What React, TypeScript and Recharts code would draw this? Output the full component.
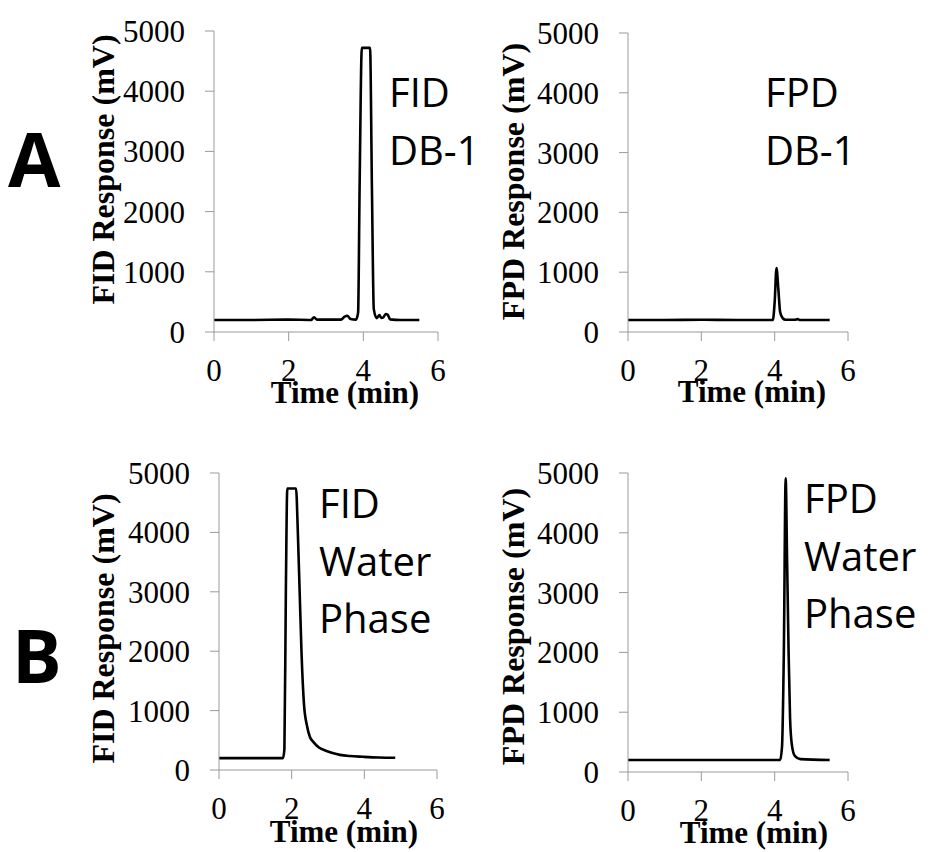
import React from "react";
import { LineChart, Line, XAxis, YAxis } from "recharts";

// time (min) / response (mV)
const fidDb1Time = [0, 1, 2, 2.6, 2.68, 2.76, 3.4, 3.5, 3.57, 3.66, 3.8, 3.86, 3.9, 3.96, 4.18, 4.23, 4.28, 4.36, 4.43, 4.48, 4.53, 4.6, 4.65, 4.72, 5, 5.5];
const fidDb1Resp = [200, 200, 205, 200, 245, 205, 205, 255, 270, 215, 205, 320, 2400, 4720, 4720, 2400, 380, 230, 280, 235, 240, 300, 290, 210, 200, 200];

const fpdDb1Time = [0, 1, 2, 3, 3.95, 4.0, 4.05, 4.1, 4.15, 4.22, 4.3, 4.55, 4.62, 4.7, 5.5];
const fpdDb1Resp = [200, 200, 205, 200, 200, 500, 1070, 720, 330, 230, 205, 205, 215, 200, 200];

const fidWaterTime = [0, 1, 1.76, 1.8, 1.84, 1.88, 2.12, 2.17, 2.22, 2.27, 2.34, 2.42, 2.5, 2.6, 2.75, 2.96, 3.15, 3.33, 3.6, 3.97, 4.4, 4.85];
const fidWaterResp = [200, 200, 200, 350, 3000, 4740, 4740, 4000, 3000, 2000, 1100, 750, 560, 470, 380, 320, 280, 255, 235, 222, 210, 205];

const fpdWaterTime = [0, 1, 2, 3, 4.15, 4.2, 4.25, 4.3, 4.34, 4.38, 4.42, 4.47, 4.55, 4.7, 5.5];
const fpdWaterResp = [200, 200, 200, 200, 200, 420, 2000, 4910, 3500, 2000, 900, 450, 270, 215, 200];

const xTicks = [0, 2, 4, 6];
const yTicks = [0, 1000, 2000, 3000, 4000, 5000];

const toRows = (t: number[], v: number[]) => t.map((time, i) => ({ time, resp: v[i] }));

const axisGrey = "#9a9a9a";
const serif = "'Liberation Serif', 'Times New Roman', serif";
const sans = "'Open Sans', 'Noto Sans', sans-serif";

interface PanelProps {
  data: Array<{ time: number; resp: number }>;
  yLabel: string;
  left: number;
  top: number;
  width: number;
  height: number;
  yAxisWidth: number;
  margin: { top: number; right: number; bottom: number; left: number };
  yLabelX: number;
  yLabelDy: number;
  xLabelDx: number;
  xLabelOffset: number;
}

const Panel = ({
  data,
  yLabel,
  left,
  top,
  width,
  height,
  yAxisWidth,
  margin,
  yLabelX,
  yLabelDy,
  xLabelDx,
  xLabelOffset,
}: PanelProps) => (
  <div style={{ position: "absolute", left, top }}>
    <LineChart width={width} height={height} data={data} margin={margin}>
      <XAxis
        dataKey="time"
        type="number"
        domain={[0, 6]}
        ticks={xTicks}
        height={80}
        stroke={axisGrey}
        tickSize={9}
        tickMargin={18}
        tick={{ fill: "#000", fontSize: 31, fontFamily: serif }}
        label={{
          value: "Time (min)",
          position: "insideBottom",
          offset: xLabelOffset,
          dx: xLabelDx,
          style: { fill: "#000", fontSize: 31, fontWeight: 700, fontFamily: serif },
        }}
      />
      <YAxis
        dataKey="resp"
        type="number"
        domain={[0, 5000]}
        ticks={yTicks}
        width={yAxisWidth}
        stroke={axisGrey}
        tickSize={9}
        tickMargin={20}
        tick={{ fill: "#000", fontSize: 31, fontFamily: serif }}
        label={{
          value: yLabel,
          angle: -90,
          position: "insideLeft",
          offset: yLabelX,
          dy: yLabelDy,
          style: {
            textAnchor: "middle",
            fill: "#000",
            fontSize: 32,
            fontWeight: 700,
            fontFamily: serif,
          },
        }}
      />
      <Line
        type="monotone"
        dataKey="resp"
        stroke="#000"
        strokeWidth={2.6}
        dot={false}
        isAnimationActive={false}
      />
    </LineChart>
  </div>
);

const annotations = [
  { x: 389, y: 107, text: "FID" },
  { x: 389, y: 165, text: "DB-1" },
  { x: 765, y: 107, text: "FPD" },
  { x: 765, y: 165, text: "DB-1" },
  { x: 319, y: 518, text: "FID" },
  { x: 319, y: 576, text: "Water" },
  { x: 319, y: 633, text: "Phase" },
  { x: 804, y: 513, text: "FPD" },
  { x: 804, y: 571, text: "Water" },
  { x: 804, y: 628, text: "Phase" },
];

export default function App() {
  return (
    <div
      style={{
        position: "absolute",
        left: 0,
        top: 0,
        width: 930,
        height: 852,
        background: "#fff",
        overflow: "hidden",
      }}
    >
      <Panel
        data={toRows(fidDb1Time, fidDb1Resp)}
        yLabel="FID Response (mV)"
        left={0}
        top={0}
        width={470}
        height={420}
        yAxisWidth={214}
        margin={{ top: 31, right: 32, bottom: 8, left: 0 }}
        yLabelX={103}
        yLabelDy={-12}
        xLabelDx={19}
        xLabelOffset={9}
      />
      <Panel
        data={toRows(fpdDb1Time, fpdDb1Resp)}
        yLabel="FPD Response (mV)"
        left={465}
        top={0}
        width={465}
        height={420}
        yAxisWidth={163}
        margin={{ top: 33, right: 82, bottom: 8, left: 0 }}
        yLabelX={48}
        yLabelDy={-1}
        xLabelDx={14}
        xLabelOffset={10}
      />
      <Panel
        data={toRows(fidWaterTime, fidWaterResp)}
        yLabel="FID Response (mV)"
        left={0}
        top={440}
        width={470}
        height={412}
        yAxisWidth={219}
        margin={{ top: 33, right: 33, bottom: 2, left: 0 }}
        yLabelX={103}
        yLabelDy={7}
        xLabelDx={16}
        xLabelOffset={8}
      />
      <Panel
        data={toRows(fpdWaterTime, fpdWaterResp)}
        yLabel="FPD Response (mV)"
        left={465}
        top={440}
        width={465}
        height={412}
        yAxisWidth={163}
        margin={{ top: 33, right: 82, bottom: 0, left: 0 }}
        yLabelX={48}
        yLabelDy={4}
        xLabelDx={16}
        xLabelOffset={9}
      />
      <svg
        width={930}
        height={852}
        style={{ position: "absolute", left: 0, top: 0, pointerEvents: "none" }}
      >
        {annotations.map((a, i) => (
          <text key={i} x={a.x} y={a.y} fontFamily={sans} fontSize={40} fill="#000">
            {a.text}
          </text>
        ))}
        <text x={8} y={187} fontFamily={sans} fontSize={76} fontWeight={700} fill="#000">
          A
        </text>
        <text x={12} y={683} fontFamily={sans} fontSize={74} fontWeight={700} fill="#000">
          B
        </text>
      </svg>
    </div>
  );
}
